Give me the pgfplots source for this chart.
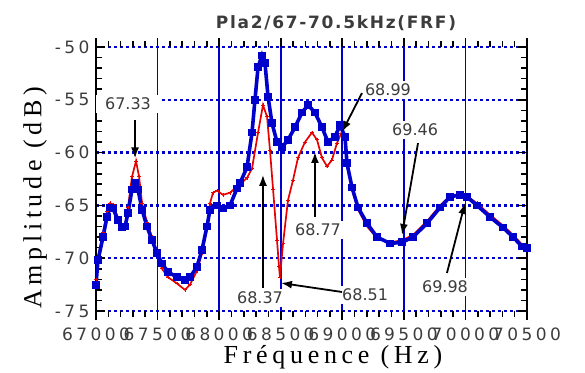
\documentclass[border=0pt]{standalone}
\usepackage{fontspec}
\setmainfont{Liberation Serif}
\newfontfamily\tickfont[LetterSpace=20]{DejaVu Sans}
\newfontfamily\annfont{DejaVu Sans}
\newfontfamily\titlefont[LetterSpace=10]{DejaVu Sans}
\newfontfamily\labfont[LetterSpace=18]{Liberation Serif}
\usepackage{pgfplots}
\pgfplotsset{compat=1.18}
\usetikzlibrary{arrows.meta}
\definecolor{cblue}{RGB}{0,0,205}
\definecolor{cred}{RGB}{230,0,0}
\definecolor{tgray}{RGB}{60,60,60}
\tikzset{
  ann/.style={fill=white, inner sep=3pt, text=tgray, font=\annfont\fontsize{16}{18}\selectfont},
  arr/.style={-{Latex[length=11pt,width=8pt]}, line width=1.8pt, black},
  vgrid/.style={draw=cblue, line width=1.8pt}
}
\begin{document}
\begin{tikzpicture}
\useasboundingbox (-96pt,-61pt) rectangle (489pt,311pt);
\begin{axis}[
  scale only axis,
  width=431pt, height=264pt,
  xmin=67000, xmax=70500, ymin=-75, ymax=-50,
  scaled x ticks=false, scaled y ticks=false,
  xtick={67000,67500,68000,68500,69000,69500,70000,70500},
  xticklabels={67000,67500,68000,68500,69000,69500,70000,70500},
  ytick={-75,-70,-65,-60,-55,-50},
  yticklabels={-75,-70,-65,-60,-55,-50},
  minor x tick num=4, minor y tick num=4,
  xtick align=outside, ytick align=inside,
  major tick length=9pt, minor tick length=6pt,
  tick style={black, line width=1.6pt},
  tick label style={font=\tickfont\fontsize{17}{20}\selectfont, text=tgray},
  /pgf/number format/assume math mode=true,
  xticklabel style={yshift=-4pt},
  yticklabel style={xshift=-3pt},
  xmajorgrids=false, ymajorgrids=true,
  major y grid style={draw=cblue, line width=2.4pt, dash pattern=on 3pt off 3pt},
  separate axis lines,
  x axis line style={draw=none},
  y axis line style={black, line width=2.4pt},
  clip=true,
]
\draw[vgrid] (axis cs:67500,-75) -- (axis cs:67500,-50);
\draw[vgrid] (axis cs:68000,-75) -- (axis cs:68000,-50);
\draw[vgrid] (axis cs:68500,-75) -- (axis cs:68500,-50);
\draw[vgrid] (axis cs:69000,-75) -- (axis cs:69000,-50);
\draw[vgrid] (axis cs:69500,-75) -- (axis cs:69500,-50);
\draw[vgrid] (axis cs:70000,-75) -- (axis cs:70000,-50);

\node[ann, inner xsep=9pt] at (axis cs:67260,-55.4) {67.33};
\node[ann] at (axis cs:68332,-73.77) {68.37};
\node[ann] at (axis cs:69185,-73.48) {68.51};
\node[ann] at (axis cs:68803,-67.33) {68.77};
\node[ann] at (axis cs:69371,-54.07) {68.99};
\node[ann] at (axis cs:69591,-57.86) {69.46};
\node[ann] at (axis cs:69834,-72.73) {69.98};

\addplot[cred, line width=1.7pt, mark=+, mark size=1.8pt, mark options={line width=0.9pt}] coordinates {
(67000,-72.0) (67016,-70.0) (67057,-67.6) (67089,-65.6) (67114,-64.8) (67138,-64.9)
(67179,-66.2) (67211,-67.0) (67236,-66.8) (67260,-65.2) (67292,-62.3) (67325,-60.8)
(67350,-62.3) (67374,-64.8) (67414,-66.6) (67455,-68.0) (67495,-69.6) (67536,-71.0)
(67585,-71.8) (67658,-72.4) (67723,-73.0) (67763,-72.5) (67820,-71.2) (67861,-69.5)
(67901,-67.2) (67926,-64.8) (67950,-63.8) (67983,-63.6) (68031,-64.0) (68088,-63.8)
(68145,-63.2) (68169,-63.0) (68226,-62.4) (68267,-61.5) (68316,-58.1) (68356,-55.5)
(68389,-56.6) (68413,-59.8) (68438,-63.5) (68470,-68.3) (68486,-70.8) (68494,-71.8)
(68519,-68.6) (68559,-64.5) (68600,-62.6) (68640,-60.5) (68697,-59.0) (68754,-58.1)
(68795,-58.8) (68835,-60.5) (68876,-61.3) (68916,-60.7) (68957,-59.1) (68990,-58.2)
(69022,-58.5) (69038,-61.2) (69079,-63.5) (69128,-65.4) (69201,-67.0) (69282,-68.1)
(69388,-68.5) (69485,-68.3) (69574,-67.8) (69688,-66.5) (69794,-65.0) (69875,-64.1)
(69956,-63.9) (70013,-64.1) (70094,-64.8) (70200,-65.9) (70305,-66.9) (70387,-67.8)
(70460,-68.7) (70500,-68.9)
};
\addplot[cblue, line width=3.6pt, mark=square*, mark size=2.1pt] coordinates {
(67000,-72.5) (67016,-70.2) (67057,-68.0) (67089,-66.1) (67114,-65.2) (67138,-65.3)
(67179,-66.4) (67211,-67.1) (67236,-67.0) (67260,-65.7) (67292,-63.5) (67317,-62.9)
(67341,-63.5) (67374,-65.4) (67414,-67.0) (67455,-68.3) (67495,-69.5) (67536,-70.5)
(67585,-71.3) (67658,-71.8) (67723,-72.1) (67763,-71.8) (67820,-70.8) (67861,-69.2)
(67901,-67.0) (67926,-65.4) (67983,-65.0) (68031,-65.3) (68088,-65.0) (68145,-63.4)
(68169,-62.9) (68226,-61.4) (68267,-58.1) (68291,-55.0) (68316,-51.9) (68348,-50.8)
(68372,-51.5) (68397,-54.7) (68429,-57.2) (68470,-59.0) (68511,-59.5) (68559,-58.8)
(68616,-57.6) (68673,-56.2) (68722,-55.5) (68778,-56.2) (68835,-57.6) (68884,-59.0)
(68941,-58.5) (68982,-57.4) (69022,-58.5) (69038,-61.0) (69079,-63.3) (69128,-65.2)
(69201,-66.7) (69282,-68.0) (69388,-68.6) (69485,-68.5) (69574,-68.0) (69688,-66.7)
(69794,-65.2) (69875,-64.2) (69956,-64.0) (70013,-64.2) (70094,-65.0) (70200,-66.1)
(70305,-67.1) (70387,-68.0) (70460,-68.9) (70500,-69.0)
};

\draw[arr] (axis cs:67317,-56.9) -- (axis cs:67317,-60.55);
\draw[arr] (axis cs:68356,-72.8) -- (axis cs:68356,-62.1);
\draw[arr] (axis cs:68998,-73.2) -- (axis cs:68502,-72.35);
\draw[arr] (axis cs:68778,-66.1) -- (axis cs:68778,-59.94);
\draw[arr] (axis cs:69160,-54.36) -- (axis cs:68998,-58.05);
\draw[arr] (axis cs:69615,-59.1) -- (axis cs:69485,-67.8);
\draw[arr] (axis cs:69850,-71.4) -- (axis cs:69997,-64.77);
\end{axis}
\node[text=tgray, font=\titlefont\bfseries\fontsize{17}{20}\selectfont] at (240pt,288pt) {Pla2/67-70.5kHz(FRF)};
\node[font=\labfont\fontsize{26}{30}\selectfont] at (237pt,-46pt) {Fréquence (Hz)};
\node[font=\labfont\fontsize{26}{30}\selectfont, rotate=90] at (-61pt,113pt) {Amplitude (dB)};
\end{tikzpicture}
\end{document}
